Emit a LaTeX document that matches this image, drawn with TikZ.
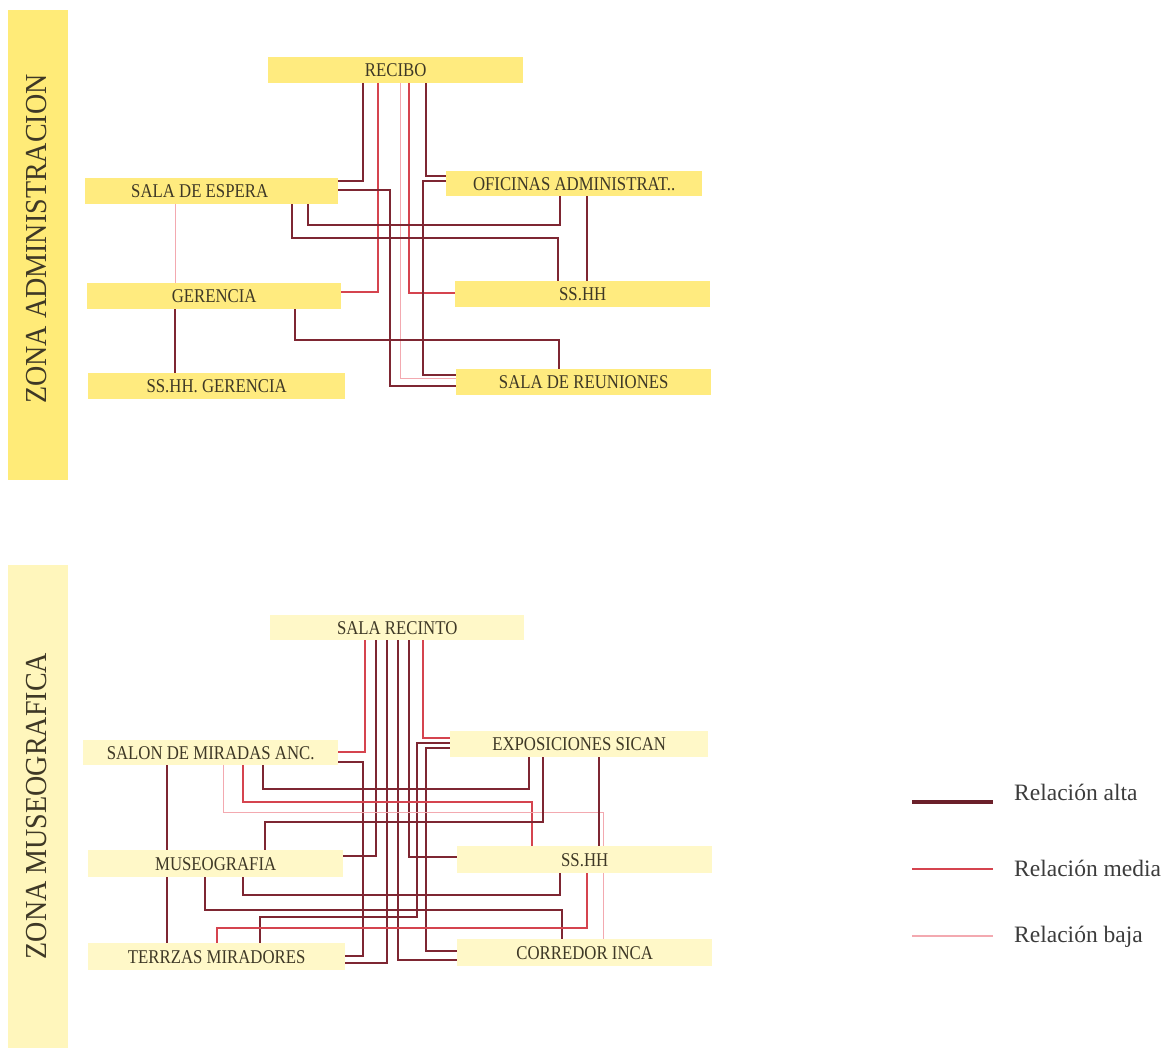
\documentclass[tikz,border=0pt]{standalone}
\usepackage{fontspec}
\setmainfont{Liberation Serif}
\newfontfamily\boxfont[FakeStretch=0.86]{Liberation Serif}
\newfontfamily\zonefont[FakeStretch=0.92]{Liberation Serif}
\usetikzlibrary{calc}
\pgfdeclarelayer{bg}
\pgfsetlayers{bg,main}
\definecolor{ylwA}{HTML}{FFEB7F}
\definecolor{ylwB}{HTML}{FFF8C8}
\definecolor{bandA}{HTML}{FFEB78}
\definecolor{bandB}{HTML}{FFF6BC}
\definecolor{txtc}{HTML}{3E3826}
\definecolor{legtxt}{HTML}{3C3C3C}
\definecolor{cAlta}{HTML}{7E2632}
\definecolor{cMedia}{HTML}{D5444F}
\definecolor{cBaja}{HTML}{F3A9B0}
\tikzset{
  roombox/.style={draw=none, inner sep=0pt, anchor=north west, text=txtc,
    font=\boxfont\fontsize{19.5}{20}\selectfont},
  boxA/.style={roombox, fill=ylwA},
  boxB/.style={roombox, fill=ylwB},
  band/.style={draw=none, inner sep=0pt, anchor=north west, minimum width=60pt},
  zonelbl/.style={rotate=90, text=txtc, inner sep=0pt, font=\zonefont\fontsize{30.5}{32}\selectfont},
  alta/.style={draw=cAlta, line width=2pt},
  media/.style={draw=cMedia, line width=1.3pt},
  baja/.style={draw=cBaja, line width=0.9pt},
  legtext/.style={anchor=west, text=legtxt, inner sep=0pt, font=\fontsize{23.5}{25}\selectfont}
}
\begin{document}
\begin{tikzpicture}[x=1pt,y=-1pt]
\useasboundingbox (0,0) rectangle (1172,1051);
% zone bands
\node[band, fill=bandA, minimum height=470pt] (bandA) at (8,10) {};
\node[band, fill=bandB, minimum height=483pt] (bandB) at (8,565) {};
\node[zonelbl] (zoneA) at (37,239) {ZONA ADMINISTRACION};
\node[zonelbl] (zoneB) at (37,806) {ZONA MUSEOGRAFICA};

% ---- top diagram boxes
\node[boxA, minimum width=255pt, minimum height=26pt] (recibo) at (268,57) {RECIBO};
\node[boxA, minimum width=253pt, minimum height=26pt] (espera) at (85,178) {\hspace*{-24pt}SALA DE ESPERA};
\node[boxA, minimum width=256pt, minimum height=25pt] (ofic) at (446,171) {OFICINAS ADMINISTRAT..};
\node[boxA, minimum width=254pt, minimum height=26pt] (ger) at (87,283) {GERENCIA};
\node[boxA, minimum width=255pt, minimum height=26pt] (sshhA) at (455,281) {SS.HH};
\node[boxA, minimum width=257pt, minimum height=26pt] (ssger) at (88,373) {SS.HH. GERENCIA};
\node[boxA, minimum width=255pt, minimum height=26pt] (reun) at (456,369) {SALA DE REUNIONES};

% ---- bottom diagram boxes
\node[boxB, minimum width=254pt, minimum height=25pt] (recinto) at (270,615) {SALA RECINTO};
\node[boxB, minimum width=255pt, minimum height=25pt] (salon) at (83,740) {SALON DE MIRADAS ANC.};
\node[boxB, minimum width=258pt, minimum height=26pt] (expo) at (450,731) {EXPOSICIONES SICAN};
\node[boxB, minimum width=255pt, minimum height=27pt] (museo) at (88,850) {MUSEOGRAFIA};
\node[boxB, minimum width=255pt, minimum height=27pt] (sshhB) at (457,846) {SS.HH};
\node[boxB, minimum width=257pt, minimum height=27pt] (terr) at (88,943) {TERRZAS MIRADORES};
\node[boxB, minimum width=255pt, minimum height=27pt] (corr) at (457,939) {CORREDOR INCA};

% ---- legend
\coordinate (lgA1) at (912,802); \coordinate (lgA2) at (993,802);
\coordinate (lgM1) at (912,869); \coordinate (lgM2) at (993,869);
\coordinate (lgB1) at (912,936); \coordinate (lgB2) at (993,936);
\draw[draw=cAlta!85!black, line width=4pt] (lgA1) -- (lgA2);
\draw[draw=cMedia, line width=2.4pt] (lgM1) -- (lgM2);
\draw[draw=cBaja, line width=1.2pt] (lgB1) -- (lgB2);
\node[legtext] (legA) at (1014,792) {Relación alta};
\node[legtext] (legM) at (1014,868) {Relación media};
\node[legtext] (legB) at (1014,937) {Relación baja};

\begin{pgfonlayer}{bg}
\fill[white] (0,0) rectangle (1172,1051);
% ---- top connectors
\draw[alta]  (recibo.south -| 363,0) |- (espera.east |- 0,181);
\draw[media] (recibo.south -| 378,0) |- (ger.east |- 0,292);
\draw[baja]  (recibo.south -| 400,0) |- (reun.west |- 0,378);
\draw[media] (recibo.south -| 409,0) |- (sshhA.west |- 0,293);
\draw[alta]  (recibo.south -| 426,0) |- (ofic.west |- 0,176);
\draw[alta]  (ofic.west |- 0,181) -- (423,181) |- (reun.west |- 0,375);
\draw[alta]  (espera.east |- 0,190) -- (390,190) |- (reun.west |- 0,386);
\draw[alta]  (espera.south -| 308,0) -- (308,225) -- (560,225) -- (ofic.south -| 560,0);
\draw[alta]  (espera.south -| 292,0) -- (292,238) -- (558,238) -- (sshhA.north -| 558,0);
\draw[alta]  (ofic.south -| 587,0) -- (sshhA.north -| 587,0);
\draw[baja]  (espera.south -| 175,0) -- (ger.north -| 175,0);
\draw[alta]  (ger.south -| 175,0) -- (ssger.north -| 175,0);
\draw[alta]  (ger.south -| 295,0) -- (295,340) -- (559,340) -- (reun.north -| 559,0);
% ---- bottom connectors
\draw[media] (recinto.south -| 365,0) |- (salon.east |- 0,752);
\draw[alta]  (salon.east |- 0,762) -- (363,762) |- (terr.east |- 0,956);
\draw[alta]  (recinto.south -| 376,0) |- (museo.east |- 0,856);
\draw[alta]  (recinto.south -| 387,0) |- (terr.east |- 0,963);
\draw[alta]  (recinto.south -| 398,0) |- (corr.west |- 0,960);
\draw[alta]  (recinto.south -| 409,0) |- (sshhB.west |- 0,857);
\draw[media] (recinto.south -| 423,0) |- (expo.west |- 0,738);
\draw[alta]  (expo.west |- 0,743) -- (417,743) -- (417,917) -- (260,917) -- (terr.north -| 260,0);
\draw[alta]  (expo.west |- 0,748) -- (426,748) |- (corr.west |- 0,951);
\draw[alta]  (salon.south -| 263,0) -- (263,789) -- (529,789) -- (expo.south -| 529,0);
\draw[media] (salon.south -| 243,0) -- (243,802) -- (532,802) -- (sshhB.north -| 532,0);
\draw[baja]  (salon.south -| 223,0) -- (223,812) -- (603,812) -- (corr.north -| 603,0);
\draw[alta]  (museo.north -| 265,0) -- (265,822) -- (543,822) -- (expo.south -| 543,0);
\draw[alta]  (expo.south -| 599,0) -- (sshhB.north -| 599,0);
\draw[alta]  (salon.south -| 167,0) -- (museo.north -| 167,0);
\draw[alta]  (museo.south -| 167,0) -- (terr.north -| 167,0);
\draw[alta]  (museo.south -| 243,0) -- (243,895) -- (560,895) -- (sshhB.south -| 560,0);
\draw[alta]  (museo.south -| 205,0) -- (205,910) -- (562,910) -- (corr.north -| 562,0);
\draw[media] (terr.north -| 217,0) -- (217,928) -- (587,928) -- (sshhB.south -| 587,0);
\end{pgfonlayer}
\end{tikzpicture}
\end{document}
